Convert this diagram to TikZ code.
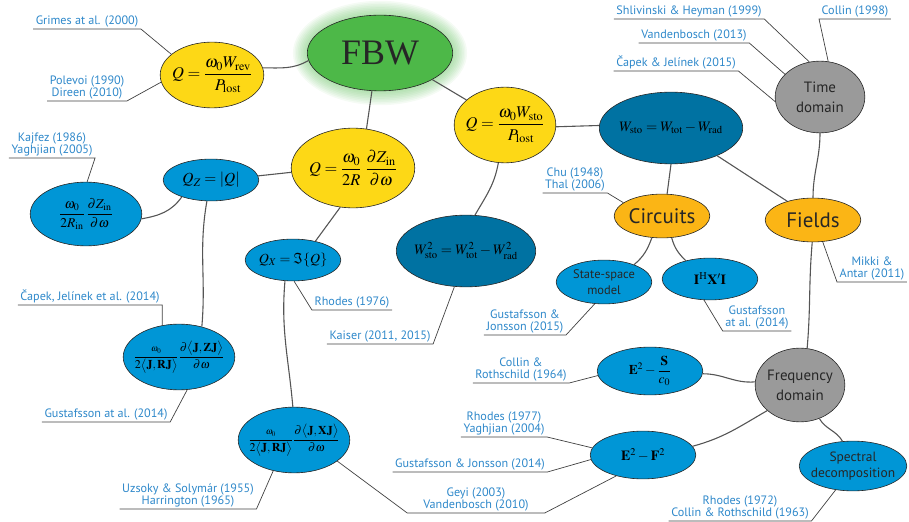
\documentclass[tikz,border=0pt]{standalone}
\usepackage{amsmath}
\usepackage{mathptmx}
\usepackage[no-math]{fontspec}
\setmainfont{PT Sans}
\newfontfamily\fbwfont{Liberation Serif}
\usepackage{xcolor}
\usepackage{tikz}
\usetikzlibrary{shapes.geometric}
\usetikzlibrary{calc}

\definecolor{fbwgreen}{HTML}{4DB848}
\definecolor{qyellow}{HTML}{FDD816}
\definecolor{lblue}{HTML}{0096D6}
\definecolor{dblue}{HTML}{0072A2}
\definecolor{corange}{HTML}{FBB515}
\definecolor{dgray}{HTML}{9A9A9A}
\definecolor{citeblue}{HTML}{2E88CA}
\definecolor{wire}{HTML}{555555}

\tikzset{
	bub/.style={ellipse, draw=black!85, line width=0.6pt, inner sep=0pt},
	link/.style={draw=wire, line width=1.1pt},
	lead/.style={draw=black!75, line width=0.7pt},
	cite/.style={text=citeblue, font=\fontsize{12.2}{12}\selectfont, align=center, inner xsep=2.5pt, inner ysep=1.8pt, anchor=south},
	eq/.style={font=\fontsize{16.5}{18}\selectfont},
	word/.style={text=black!85, align=center},
}

\begin{document}
\begin{tikzpicture}[x=1bp,y=-1bp]
\useasboundingbox (0,0) rectangle (909,522);
% glow round FBW
\foreach \g in {1,...,9}
	\fill[fbwgreen, opacity=0.06] (380,53) ellipse ({73pt+\g*1.6pt} and {38pt+\g*1.6pt});

% main bubbles
\node[bub, fill=fbwgreen, minimum width=146, minimum height=76,
	label={[text=black!85]center:{\fbwfont\fontsize{36}{40}\selectfont FBW}}] (fbw) at (380,53) {};
\node[bub, fill=qyellow, minimum width=104, minimum height=66,
	label={[eq]center:$Q=\dfrac{\omega_0W_{\mathrm{rev}}}{P_{\mathrm{lost}}}$}] (qrev) at (212,75) {};
\node[bub, fill=qyellow, minimum width=102, minimum height=76,
	label={[eq]center:$Q=\dfrac{\omega_0W_{\mathrm{sto}}}{P_{\mathrm{lost}}}$}] (qsto) at (505,125) {};
\node[bub, fill=qyellow, minimum width=124, minimum height=80,
	label={[eq]center:$Q=\dfrac{\omega_0}{2R}\;\dfrac{\partial Z_{\mathrm{in}}}{\partial\omega}$}] (qzin) at (353,168) {};
\node[bub, fill=dblue, minimum width=144, minimum height=72,
	label={[font=\fontsize{14.5}{16}\selectfont]center:$W_{\mathrm{sto}}=W_{\mathrm{tot}}-W_{\mathrm{rad}}$}] (wsto) at (671,128) {};
\node[bub, fill=dblue, minimum width=140, minimum height=72,
	label={[font=\fontsize{14.5}{16}\selectfont]center:$W^2_{\mathrm{sto}}=W^2_{\mathrm{tot}}-W^2_{\mathrm{rad}}$}] (wsq) at (466,251) {};

% left branch
\node[bub, fill=lblue, minimum width=96, minimum height=42,
	label={[font=\fontsize{15.5}{17}\selectfont]center:$Q_Z=\left|Q\right|$}] (qz) at (211,180) {};
\node[bub, fill=lblue, minimum width=112, minimum height=64,
	label={[font=\fontsize{13.5}{15}\selectfont]center:$\dfrac{\omega_0}{2R_{\mathrm{in}}}\,\dfrac{\partial Z_{\mathrm{in}}}{\partial\omega}$}] (rin) at (86,214) {};
\node[bub, fill=lblue, minimum width=96, minimum height=42,
	label={[font=\fontsize{14}{16}\selectfont]center:$Q_X=\Im\{Q\}$}] (qx) at (293,260) {};
\node[bub, fill=lblue, minimum width=112, minimum height=66,
	label={[font=\fontsize{12}{14}\selectfont]center:$\dfrac{\scriptstyle\omega_0}{2\bigl\langle\mathbf{J},\mathbf{RJ}\bigr\rangle}\dfrac{\partial\bigl\langle\mathbf{J},\mathbf{ZJ}\bigr\rangle}{\partial\omega}$}] (cz) at (179,357) {};
\node[bub, fill=lblue, minimum width=112, minimum height=66,
	label={[font=\fontsize{12}{14}\selectfont]center:$\dfrac{\scriptstyle\omega_0}{2\bigl\langle\mathbf{J},\mathbf{RJ}\bigr\rangle}\dfrac{\partial\bigl\langle\mathbf{J},\mathbf{XJ}\bigr\rangle}{\partial\omega}$}] (cx) at (294,440) {};

% right branch
\node[bub, fill=dgray, minimum width=90, minimum height=72,
	label={[word, font=\fontsize{15}{20}\selectfont]center:Time\\domain}] (time) at (820,97) {};
\node[bub, fill=corange, minimum width=96, minimum height=44,
	label={[word, font=\fontsize{21}{22}\selectfont]center:Circuits}] (circuits) at (662,216) {};
\node[bub, fill=corange, minimum width=96, minimum height=44,
	label={[word, font=\fontsize{21}{22}\selectfont]center:Fields}] (fields) at (813,220) {};
\node[bub, fill=lblue, minimum width=96, minimum height=44,
	label={[word, font=\fontsize{12.5}{16}\selectfont]center:State-space\\model}] (ss) at (604,282) {};
\node[bub, fill=lblue, minimum width=96, minimum height=42,
	label={[font=\fontsize{14}{16}\selectfont]center:$\mathbf{I}^{\mathrm{H}}\mathbf{X}'\mathbf{I}$}] (ihxi) at (710,279) {};
\node[bub, fill=dgray, minimum width=90, minimum height=74,
	label={[word, font=\fontsize{15}{20}\selectfont]center:Frequency\\domain}] (freq) at (800,385) {};
\node[bub, fill=lblue, minimum width=106, minimum height=48,
	label={[font=\fontsize{13.5}{15}\selectfont]center:$\mathbf{E}^2-\dfrac{\mathbf{S}}{c_0}$}] (es) at (650,371) {};
\node[bub, fill=lblue, minimum width=106, minimum height=48,
	label={[font=\fontsize{14}{16}\selectfont]center:$\mathbf{E}^2-\mathbf{F}^2$}] (ef) at (643,455) {};
\node[bub, fill=lblue, minimum width=108, minimum height=50,
	label={[word, font=\fontsize{13.5}{16}\selectfont]center:Spectral\\decomposition}] (spec) at (853,466) {};

% links
\draw[link] (qrev.8) to[out=0,in=210] (fbw.186);
\draw[link] (fbw.258) -- (qzin.71);
\draw[link] (fbw.333) -- (qsto.147);
\draw[link] (qsto.358) -- (wsto.178);
\draw[link] (qsto.260) to[out=260,in=60] (wsq.76);
\draw[link] (qzin.184) -- (qz.5);
\draw[link] (qzin.252) -- (qx.40);
\draw[link] (qz.210) to[out=235,in=10] (rin.355);
\draw[link] (qz.259) to[out=260,in=85] (cz.53);
\draw[link] (qx.249) to[out=265,in=95] (cx.92);
\draw[link] (wsto.270) -- (circuits.77);
\draw[link] (wsto.329) -- (fields.144);
\draw[link] (time.270) to[out=270,in=90] (fields.90);
\draw[link] (circuits.245) to[out=250,in=40] (ss.30);
\draw[link] (circuits.294) to[out=285,in=135] (ihxi.143);
\draw[link] (fields.268) to[out=265,in=85] (freq.79);
\draw[link] (freq.176) to[out=185,in=0] (es.357);
\draw[link] (freq.218) to[out=210,in=15] (ef.10);
\draw[link] (freq.300) to[out=300,in=120] (spec.113);

% references
\node[cite] (grimes) at (87,29) {Grimes at al. (2000)};
\draw[lead] (grimes.south west) -- (grimes.south east) -- (qrev.153);
\node[cite] (polevoi) at (87,101) {Polevoi (1990)\\Direen (2010)};
\draw[lead] (polevoi.south west) -- (polevoi.south east) -- (qrev.188);
\node[cite] (kajfez) at (52,158) {Kajfez (1986)\\Yaghjian (2005)};
\draw[lead] (kajfez.south west) -- (kajfez.south east) -- (rin.88);
\node[cite] (capekA) at (90,305) {Čapek, Jelínek et al. (2014)};
\draw[lead] (capekA.south west) -- (capekA.south east) -- (cz.118);
\node[cite] (gustA) at (106,422) {Gustafsson at al. (2014)};
\draw[lead] (gustA.south west) -- (gustA.south east) -- (cz.284);
\node[cite] (uzsoky) at (188,509) {Uzsoky \& Solymár (1955)\\Harrington (1965)};
\draw[lead] (uzsoky.south west) -- (uzsoky.south east) -- (cx.236);
\node[cite] (rhodesA) at (352,310) {Rhodes (1976)};
\draw[lead] (rhodesA.south east) -- (rhodesA.south west) -- (qx.273);
\node[cite] (kaiser) at (380,344) {Kaiser (2011, 2015)};
\draw[lead] (kaiser.south west) -- (kaiser.south east) -- (wsq.252);
\node[cite] (chu) at (575,193) {Chu (1948)\\Thal (2006)};
\draw[lead] (chu.south west) -- (chu.south east) -- (circuits.161);
\node[cite] (gustB) at (525,335) {Gustafsson \&\\Jonsson (2015)};
\draw[lead] (gustB.south west) -- (gustB.south east) -- (ss.247);
\node[cite] (gustC) at (757,331) {Gustafsson\\at al. (2014)};
\draw[lead] (gustC.south east) -- (gustC.south west) -- (ihxi.254);
\node[cite] (mikki) at (872,282) {Mikki \&\\Antar (2011)};
\draw[lead] (mikki.south east) -- (mikki.south west) -- (fields.294);
\node[cite] (shliv) at (689,19) {Shlivinski \& Heyman (1999)};
\draw[lead] (shliv.south west) -- (shliv.south east) -- (time.107);
\node[cite] (collinA) at (855,19) {Collin (1998)};
\draw[lead] (collinA.south east) -- (collinA.south west) -- (time.77);
\node[cite] (vandenA) at (694,43) {Vandenbosch (2013)};
\draw[lead] (vandenA.south west) -- (vandenA.south east) -- (time.147);
\node[cite] (capekB) at (676,71) {Čapek \& Jelínek (2015)};
\draw[lead] (capekB.south west) -- (capekB.south east) -- (time.186);
\node[cite] (collinB) at (521,383) {Collin \&\\Rothschild (1964)};
\draw[lead] (collinB.south west) -- (collinB.south east) -- (es.185);
\node[cite] (rhodesB) at (504,437) {Rhodes (1977)\\Yaghjian (2004)};
\draw[lead] (rhodesB.south west) -- (rhodesB.south east) -- (ef.172);
\node[cite] (gustD) at (470,472) {Gustafsson \& Jonsson (2014)};
\draw[lead] (gustD.south west) -- (gustD.south east) -- (ef.185);
\node[cite, inner xsep=16pt] (geyi) at (476,513) {Geyi (2003)\\Vandenbosch (2010)};
\draw[lead] (cx.334) -- (geyi.south west) -- (geyi.south east) -- (ef.218);
\node[cite] (rhodesC) at (740,521) {Rhodes (1972)\\Collin \& Rothschild (1963)};
\draw[lead] (rhodesC.south west) -- (rhodesC.south east) -- (spec.234);
\end{tikzpicture}
\end{document}
